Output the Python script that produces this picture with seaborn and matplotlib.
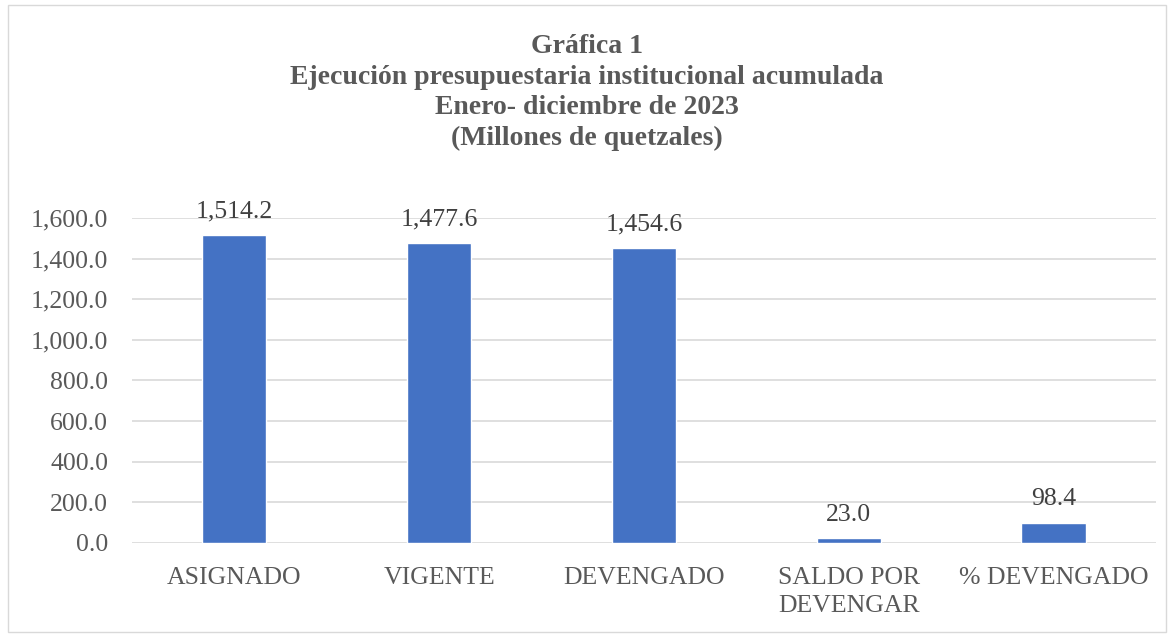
import matplotlib
matplotlib.use("Agg")
import pandas as pd
from matplotlib import pyplot as plt
from matplotlib.patches import Rectangle
import seaborn as sns

categorias = ["ASIGNADO", "VIGENTE", "DEVENGADO", "SALDO POR\nDEVENGAR", "% DEVENGADO"]
valores = [1514.2, 1477.6, 1454.6, 23.0, 98.4]
titulo = "Gráfica 1\nEjecución presupuestaria institucional acumulada\nEnero- diciembre de 2023\n(Millones de quetzales)"

df = pd.DataFrame({"categoria": categorias, "valor": valores})

sns.set_style("white")
plt.rcParams["font.family"] = ["Liberation Serif", "DejaVu Serif"]

fig = plt.figure(figsize=(11.74, 6.37), dpi=100)
ax = fig.add_axes([0.1124, 0.1476, 0.8722, 0.5102])

sns.barplot(data=df, x="categoria", y="valor", color="#4472C4", saturation=1,
            width=0.313, ax=ax, zorder=3)

ax.set_ylim(0, 1600)
ax.set_xlim(-0.5, 4.5)
ax.set_yticks(range(0, 1601, 200))
ax.yaxis.set_major_formatter(matplotlib.ticker.FuncFormatter(lambda v, p: f"{v:,.1f}"))
ax.grid(axis="y", color="#d9d9d9", linewidth=1.2, zorder=0)
for s in ax.spines.values():
    s.set_visible(False)
ax.tick_params(axis="both", length=0, labelsize=18.5, colors="#595959")
ax.tick_params(axis="y", pad=17)
ax.tick_params(axis="x", pad=17)
for t in ax.get_xticklabels():
    t.set_linespacing(1.35)
ax.set_xlabel("")
ax.set_ylabel("")

for i, v in enumerate(valores):
    ax.annotate(f"{v:,.1f}", (i, v), textcoords="offset points", xytext=(0, 9),
                ha="center", va="bottom", fontsize=18.5, color="#404040", annotation_clip=False)

fig.text(0.5, 0.946, titulo, ha="center", va="top", fontsize=20, fontweight="bold",
         color="#595959", linespacing=1.29)

fig.patches.append(Rectangle((0.007, 0.008), 0.986, 0.984, transform=fig.transFigure,
                             fill=False, edgecolor="#d9d9d9", linewidth=1))

fig.savefig("out.png", dpi=100)
